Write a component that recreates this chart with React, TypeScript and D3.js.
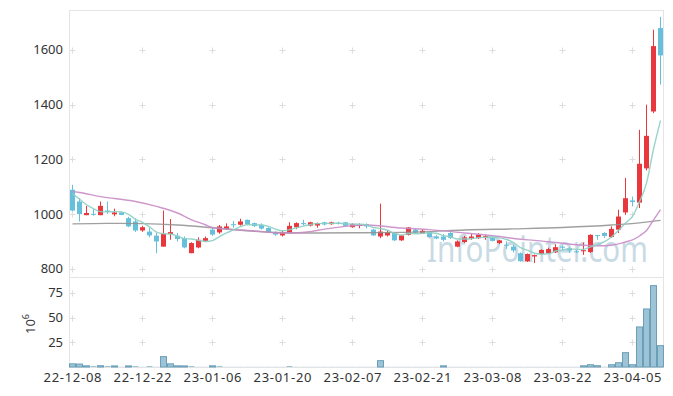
import * as d3 from 'd3';
import React from 'react';

// trading days shown on the chart
const dates = [
  '22-12-08', '22-12-09', '22-12-12', '22-12-13', '22-12-14', '22-12-15', '22-12-16', '22-12-19', '22-12-20', '22-12-21',
  '22-12-22', '22-12-23', '22-12-26', '22-12-27', '22-12-28', '22-12-29', '23-01-02', '23-01-03', '23-01-04', '23-01-05',
  '23-01-06', '23-01-09', '23-01-10', '23-01-11', '23-01-12', '23-01-13', '23-01-16', '23-01-17', '23-01-18', '23-01-19',
  '23-01-20', '23-01-25', '23-01-26', '23-01-27', '23-01-30', '23-01-31', '23-02-01', '23-02-02', '23-02-03', '23-02-06',
  '23-02-07', '23-02-08', '23-02-09', '23-02-10', '23-02-13', '23-02-14', '23-02-15', '23-02-16', '23-02-17', '23-02-20',
  '23-02-21', '23-02-22', '23-02-23', '23-02-24', '23-02-27', '23-02-28', '23-03-02', '23-03-03', '23-03-06', '23-03-07',
  '23-03-08', '23-03-09', '23-03-10', '23-03-13', '23-03-14', '23-03-15', '23-03-16', '23-03-17', '23-03-20', '23-03-21',
  '23-03-22', '23-03-23', '23-03-24', '23-03-27', '23-03-28', '23-03-29', '23-03-30', '23-03-31', '23-04-03', '23-04-04',
  '23-04-05', '23-04-06', '23-04-07', '23-04-10', '23-04-11',
];

const open = [
  1089, 1046, 996, 1001, 996, 1013, 999, 1006, 985, 973,
  940, 936, 921, 881, 927, 921, 912, 857, 878, 902,
  943, 933, 946, 963, 961, 979, 967, 961, 949, 933,
  922, 931, 952, 967, 958, 958, 970, 963, 968, 970,
  952, 957, 963, 943, 918, 922, 931, 904, 924, 943,
  929, 934, 918, 918, 931, 881, 898, 910, 912, 917,
  912, 894, 888, 881, 857, 827, 845, 854, 857, 860,
  881, 875, 864, 864, 861, 923, 931, 916, 943, 1006,
  1050, 1042, 1167, 1375, 1680,
];
const high = [
  1107, 1058, 1030, 1018, 1046, 1046, 1020, 1008, 990, 984,
  957, 950, 931, 1013, 982, 931, 918, 897, 915, 918,
  950, 960, 966, 975, 983, 980, 969, 966, 952, 937,
  940, 970, 970, 979, 972, 969, 972, 972, 972, 971,
  966, 966, 966, 946, 1038, 940, 934, 924, 953, 946,
  945, 937, 924, 927, 934, 904, 920, 927, 930, 924,
  915, 906, 900, 888, 860, 856, 852, 871, 877, 890,
  886, 879, 868, 896, 926, 924, 934, 955, 1016, 1132,
  1064, 1308, 1400, 1674, 1721,
];
const low = [
  1010, 973, 996, 994, 996, 1000, 992, 996, 952, 935,
  935, 915, 857, 881, 906, 900, 875, 857, 875, 900,
  920, 928, 942, 950, 958, 960, 953, 943, 931, 921,
  918, 928, 945, 958, 955, 950, 958, 961, 962, 955,
  950, 948, 948, 920, 912, 918, 902, 902, 922, 928,
  927, 914, 908, 900, 909, 879, 894, 906, 909, 906,
  900, 890, 873, 860, 826, 825, 821, 852, 855, 858,
  868, 858, 857, 851, 858, 906, 913, 913, 931, 997,
  1028, 1022, 1160, 1369, 1473,
];
const close = [
  1013, 1000, 1004, 999, 1030, 1008, 1006, 997, 955, 940,
  952, 922, 900, 928, 934, 909, 878, 894, 906, 912,
  925, 955, 955, 961, 973, 962, 956, 947, 935, 925,
  933, 957, 967, 963, 970, 967, 962, 970, 966, 957,
  963, 960, 955, 922, 936, 933, 904, 922, 951, 932,
  939, 916, 911, 906, 913, 900, 915, 918, 924, 919,
  902, 904, 886, 867, 828, 854, 850, 869, 872, 879,
  877, 867, 862, 868, 924, 920, 920, 946, 991, 1058,
  1044, 1184, 1286, 1614, 1580,
];

// volume, millions of shares
const volume = [
  3.2, 3.0, 1.2, 1.0, 1.3, 1.0, 1.1, 0.2, 1.1, 1.0,
  0.2, 1.0, 0.2, 10.5, 3.2, 1.2, 1.1, 1.0, 0.2, 0.2,
  1.2, 1.0, 0.2, 0.2, 0.2, 0.2, 0.2, 0.2, 0.2, 0.2,
  0.2, 1.0, 0.2, 0.2, 0.2, 0.2, 0.2, 0.2, 0.2, 0.2,
  0.2, 0.2, 0.2, 0.2, 6.4, 0.2, 0.2, 0.2, 0.2, 0.2,
  0.2, 0.2, 0.2, 1.2, 0.2, 0.2, 0.2, 0.2, 0.2, 0.2,
  0.2, 0.2, 0.2, 0.2, 0.2, 0.2, 0.2, 0.2, 0.2, 0.2,
  0.2, 0.2, 0.2, 1.2, 2.3, 1.3, 0.3, 2.3, 4.3, 14.5,
  2.3, 40.5, 58.7, 82.3, 21.6,
];

// moving averages
const ma5 = [
  1074, 1055, 1034, 1020, 1009, 1008, 1009, 1008, 999, 981,
  970, 953, 934, 928, 927, 919, 910, 909, 904, 900,
  903, 918, 931, 942, 954, 961, 961, 960, 955, 945,
  939, 943, 950, 956, 962, 965, 966, 966, 967, 964,
  964, 963, 960, 951, 947, 941, 930, 923, 929, 928,
  930, 932, 930, 921, 917, 909, 909, 910, 914, 915,
  916, 913, 907, 896, 877, 868, 857, 854, 855, 865,
  869, 873, 871, 871, 880, 888, 899, 916, 940, 967,
  992, 1045, 1113, 1237, 1342,
];
const ma20: [number, number][] = [
  [0, 1083], [1, 1079], [4, 1064], [9, 1046], [12, 1028], [15, 1004], [17, 979], [19, 961],
  [20, 951], [22, 945], [25, 940], [27, 936], [29, 931], [32, 931], [34, 936], [36, 945],
  [39, 955], [42, 960], [47, 949], [51, 943], [56, 931], [61, 918], [64, 908], [66, 904],
  [69, 896], [72, 888], [75, 884], [77, 886], [79, 898], [80, 906], [81, 920], [82, 940],
  [83, 978], [84, 1016],
];
const ma60: [number, number][] = [
  [0, 964], [5, 966], [10, 965], [15, 960], [20, 950], [25, 939], [30, 932], [35, 931],
  [42, 932], [50, 935], [56, 942], [63, 946], [70, 951], [77, 960], [81, 968], [84, 977],
];

const priceTicks = [800, 1000, 1200, 1400, 1600];
const volumeTicks = [25, 50, 75];
const labelStep = 10;

const UP = '#e8383d';
const DOWN = '#66c0dc';
const GRID = '#dddddd';
const FRAME = '#e4e4e4';
const FONT = '"Noto Sans", sans-serif';

export default function App() {
  const width = 673;
  const height = 396;
  const left = 69;
  const right = 664;
  const top = 10;
  const split = 277;
  const bottom = 367;

  const x = d3.scaleBand<number>().domain(d3.range(dates.length)).range([left, right]);
  const cx = (i: number) => (x(i) as number) + x.bandwidth() / 2;
  const y = d3.scaleLinear().domain([770, 1746]).range([split, top]);
  const yv = d3.scaleLinear().domain([0, 90]).range([bottom, split + 1]);

  const line = d3
    .line<[number, number]>()
    .x(d => cx(d[0]))
    .y(d => y(d[1]))
    .curve(d3.curveMonotoneX);

  const labelIdx = d3.range(0, dates.length, labelStep);
  const bodyW = 5;

  const cross = (px: number, py: number, key: string) => (
    <g key={key} stroke={GRID} strokeWidth={1}>
      <line x1={px - 3} x2={px + 3} y1={py + 0.5} y2={py + 0.5} />
      <line x1={px} x2={px} y1={py - 2.5} y2={py + 3.5} />
    </g>
  );

  return (
    <div style={{ position: 'fixed', left: 0, top: 0 }}>
      <svg width={width} height={height} style={{ display: 'block', background: '#fff' }}>
        {/* grid crosses */}
        {labelIdx.map(i =>
          priceTicks.map(t => cross(cx(i), Math.round(y(t)), `p${i}-${t}`)),
        )}
        {labelIdx.map(i =>
          volumeTicks.map(t => cross(cx(i), Math.round(yv(t)), `v${i}-${t}`)),
        )}

        {/* frame */}
        <g stroke={FRAME} strokeWidth={1} fill="none">
          <line x1={left} x2={663} y1={top + 0.5} y2={top + 0.5} />
          <line x1={663.5} x2={663.5} y1={top} y2={bottom} />
          <line x1={left + 0.5} x2={left + 0.5} y1={top} y2={bottom + 1} />
          <line x1={left} x2={663} y1={split + 0.5} y2={split + 0.5} />
          <line x1={left} x2={663} y1={bottom + 0.5} y2={bottom + 0.5} />
        </g>

        {/* watermark */}
        <text
          x={427}
          y={262}
          fontFamily={FONT}
          fontSize={37}
          fill="#bfd5e1"
          opacity={0.85}
          textLength={221}
          lengthAdjust="spacingAndGlyphs"
        >
          InfoPointer.com
        </text>

        {/* candles */}
        {dates.map((_, i) => {
          const o = open[i];
          const c = close[i];
          const col = c >= o ? UP : DOWN;
          const yTop = y(Math.max(o, c));
          const h = Math.max(1, Math.abs(y(o) - y(c)));
          return (
            <g key={`c${i}`}>
              <line x1={cx(i)} x2={cx(i)} y1={y(high[i])} y2={y(low[i])} stroke={col} strokeWidth={1} />
              <rect x={cx(i) - bodyW / 2} y={yTop} width={bodyW} height={h} fill={col} />
            </g>
          );
        })}

        {/* moving averages */}
        <path d={line(ma60) || ''} fill="none" stroke="#8f8f8f" strokeWidth={1.4} opacity={0.85} />
        <path d={line(ma20) || ''} fill="none" stroke="#c98cc6" strokeWidth={1.4} opacity={0.9} />
        <path
          d={line(ma5.map((v, i) => [i, v] as [number, number])) || ''}
          fill="none"
          stroke="#8ecfc4"
          strokeWidth={1.4}
          opacity={0.9}
        />

        {/* volume */}
        {volume.map((v, i) => {
          const h = bottom - yv(v);
          return (
            <rect
              key={`v${i}`}
              x={(x(i) as number) + 0.5}
              y={yv(v)}
              width={x.bandwidth() - 1}
              height={h}
              fill="#9cc4d6"
              stroke={h > 1 ? '#6b9fb8' : 'none'}
              strokeWidth={1}
            />
          );
        })}

        {/* y axis labels */}
        <g fontFamily={FONT} fontSize={13} fill="#333" textAnchor="end">
          {priceTicks.map(t => (
            <text key={t} x={63} y={y(t)} dy="0.35em">
              {t}
            </text>
          ))}
          {volumeTicks.map(t => (
            <text key={t} x={63} y={yv(t)} dy="0.35em">
              {t}
            </text>
          ))}
        </g>
        <text
          transform="translate(35,324) rotate(-90)"
          fontFamily={FONT}
          fontSize={13}
          fill="#333"
          textAnchor="middle"
        >
          10
          <tspan dy={-6} fontSize={9}>
            6
          </tspan>
        </text>

        {/* x axis labels */}
        <g fontFamily={FONT} fontSize={13} fill="#333" textAnchor="middle">
          {labelIdx.map(i => (
            <text key={i} x={cx(i)} y={377} dy="0.35em" textLength={58} lengthAdjust="spacing">
              {dates[i]}
            </text>
          ))}
        </g>
      </svg>
    </div>
  );
}
